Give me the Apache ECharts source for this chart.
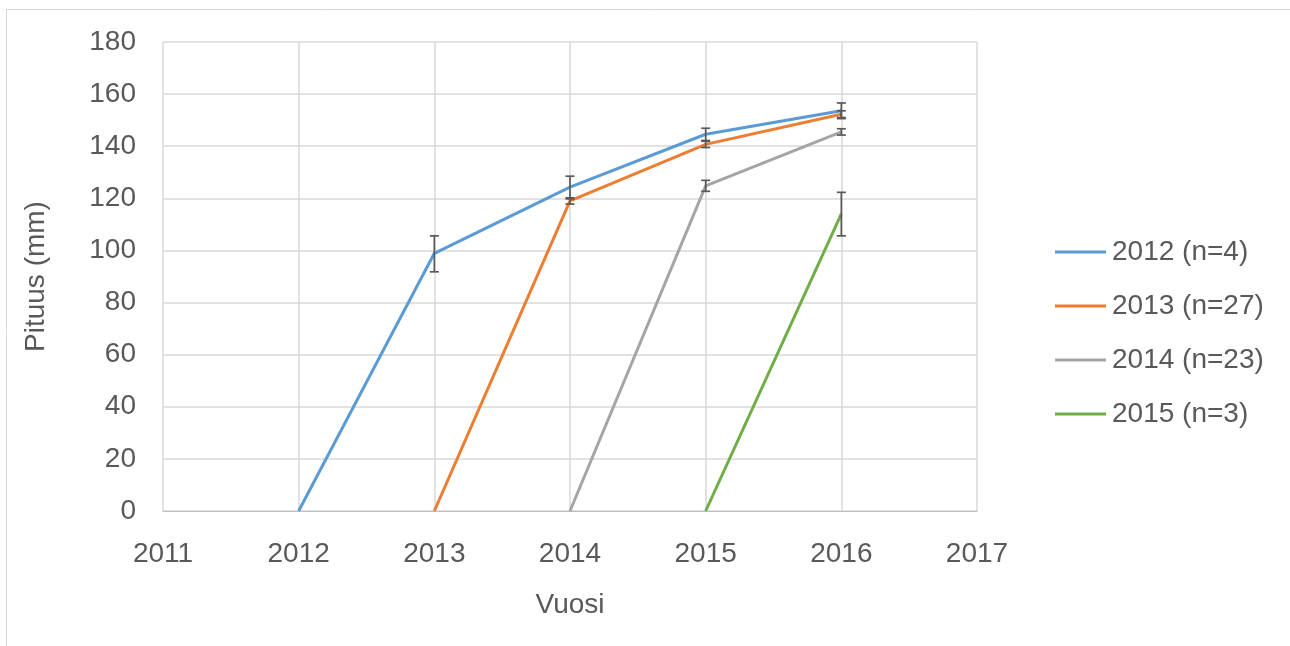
<!DOCTYPE html>
<html>
<head>
<meta charset="utf-8">
<script src="https://cdn.jsdelivr.net/npm/echarts@6/dist/echarts.min.js"></script>
<style>
  html, body { margin: 0; padding: 0; background: #fff; }
  #chart { width: 1290px; height: 646px; }
</style>
</head>
<body>
<div id="chart"></div>
<script>
  // cohort names shown in legend
  let seriesNames = ['2012 (n=4)', '2013 (n=27)', '2014 (n=23)', '2015 (n=3)'];
  let seriesColors = ['#5B9BD5', '#ED7D31', '#A5A5A5', '#70AD47'];

  // [year, length mm]
  let data2012 = [[2012, 0], [2013, 98.9], [2014, 124.3], [2015, 144.6], [2016, 153.6]];
  let data2013 = [[2013, 0], [2014, 119.0], [2015, 140.7], [2016, 152.3]];
  let data2014 = [[2014, 0], [2015, 124.8], [2016, 145.5]];
  let data2015 = [[2015, 0], [2016, 114.0]];

  // error bars: [year, low, high]
  let err2012 = [[2013, 91.8, 105.6], [2014, 119.8, 128.5], [2015, 142.2, 146.9], [2016, 150.6, 156.6]];
  let err2013 = [[2014, 117.8, 120.2], [2015, 139.5, 141.9], [2016, 151.0, 153.6]];
  let err2014 = [[2015, 122.7, 126.9], [2016, 144.3, 146.7]];
  let err2015 = [[2016, 105.6, 122.3]];

  let lineData = [data2012, data2013, data2014, data2015];
  let errData = [err2012, err2013, err2014, err2015];

  let textColor = '#595959';
  let fontName = '"Liberation Sans", Arial, sans-serif';

  function renderErr(params, api) {
    let x = api.value(0);
    let lo = api.coord([x, api.value(1)]);
    let hi = api.coord([x, api.value(2)]);
    let half = 4.5;
    let st = { stroke: '#595959', lineWidth: 1.7 };
    return {
      type: 'group',
      children: [
        { type: 'line', shape: { x1: lo[0], y1: lo[1], x2: hi[0], y2: hi[1] }, style: st },
        { type: 'line', shape: { x1: lo[0] - half, y1: lo[1], x2: lo[0] + half, y2: lo[1] }, style: st },
        { type: 'line', shape: { x1: hi[0] - half, y1: hi[1], x2: hi[0] + half, y2: hi[1] }, style: st }
      ]
    };
  }

  let series = [];
  for (let i = 0; i < seriesNames.length; i++) {
    series.push({
      name: seriesNames[i],
      type: 'line',
      data: lineData[i],
      symbol: 'none',
      lineStyle: { width: 3, color: seriesColors[i] },
      itemStyle: { color: seriesColors[i] },
      z: 3
    });
  }
  for (let i = 0; i < errData.length; i++) {
    series.push({
      type: 'custom',
      renderItem: renderErr,
      data: errData[i],
      encode: { x: 0, y: [1, 2] },
      z: 4,
      silent: true
    });
  }

  let option = {
    animation: false,
    textStyle: { fontFamily: fontName },
    graphic: [{
      type: 'rect',
      shape: { x: 6.5, y: 9.5, width: 1400, height: 700 },
      style: { fill: 'none', stroke: '#d9d9d9', lineWidth: 1 },
      silent: true
    }],
    grid: { left: 163, right: 313, top: 42, bottom: 135 },
    legend: {
      orient: 'vertical',
      left: 1050,
      top: 232,
      icon: 'rect',
      itemWidth: 51,
      itemHeight: 3,
      itemGap: 24,
      data: seriesNames,
      textStyle: { color: textColor, fontSize: 28, lineHeight: 30, fontFamily: fontName, padding: [0, 0, 0, 1] }
    },
    xAxis: {
      type: 'value',
      min: 2011,
      max: 2017,
      interval: 1,
      name: 'Vuosi',
      nameLocation: 'middle',
      nameGap: 80,
      nameTextStyle: { color: textColor, fontSize: 28, fontFamily: fontName },
      axisLine: { show: true, lineStyle: { color: '#bfbfbf', width: 1 } },
      axisTick: { show: false },
      axisLabel: { color: textColor, fontSize: 28, margin: 29, fontFamily: fontName, formatter: function (v) { return String(v); } },
      splitLine: { show: true, lineStyle: { color: '#d9d9d9', width: 1.5 } }
    },
    yAxis: {
      type: 'value',
      min: 0,
      max: 180,
      interval: 20,
      name: 'Pituus (mm)',
      nameLocation: 'middle',
      nameGap: 113,
      nameRotate: 90,
      nameTextStyle: { color: textColor, fontSize: 28, fontFamily: fontName },
      axisLine: { show: false },
      axisTick: { show: false },
      axisLabel: { color: textColor, fontSize: 28, margin: 27, fontFamily: fontName },
      splitLine: { show: true, lineStyle: { color: '#d9d9d9', width: 1.5 } }
    },
    series: series
  };

  echarts.init(document.getElementById('chart')).setOption(option);
</script>
</body>
</html>
